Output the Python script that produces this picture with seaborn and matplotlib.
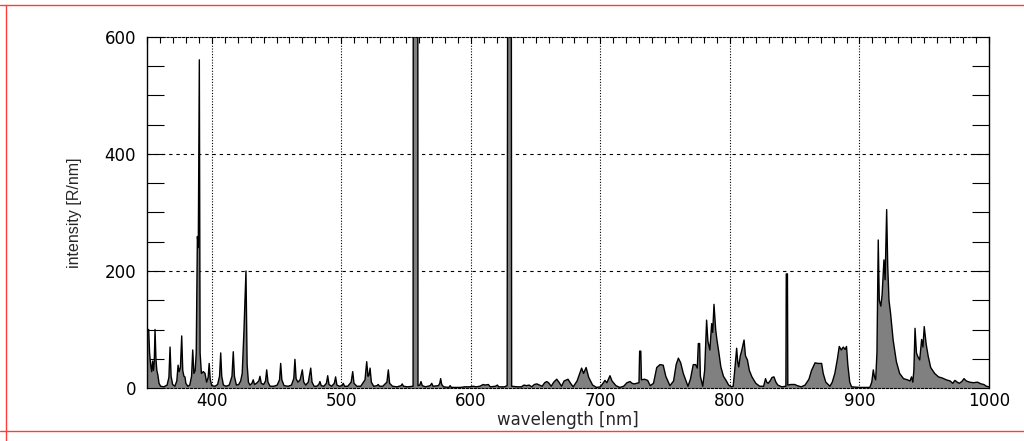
import matplotlib
matplotlib.use("Agg")
import matplotlib.pyplot as plt
from matplotlib.lines import Line2D
from matplotlib.ticker import MultipleLocator, FuncFormatter
import seaborn as sns
import pandas as pd

# spectrum (nm, R/nm); off-scale lines at 557.7 and 630 nm
wavelength_nm = [
    350.0, 351.3, 352.0, 352.8, 353.6, 354.3, 355.0, 355.6, 356.2, 356.9,
    357.6, 358.4, 359.3, 360.5, 363.0, 365.5, 366.9, 367.8, 368.6, 369.8,
    371.5, 373.0, 374.0, 374.8, 375.8, 376.8, 377.6, 378.5, 379.3, 380.0,
    381.5, 383.0, 384.4, 385.3, 386.2, 387.2, 388.0, 388.9, 389.6, 390.4,
    391.0, 392.0, 393.5, 394.8, 396.0, 397.2, 398.0, 398.8, 400.0, 402.5,
    404.5, 406.0, 406.9, 407.7, 409.0, 411.0, 413.5, 415.6, 416.6, 417.5,
    419.0, 420.8, 422.3, 423.5, 424.8, 425.6, 426.4, 427.3, 428.3, 429.5,
    431.0, 432.0, 433.0, 434.5, 436.3, 437.2, 438.2, 440.0, 441.5, 442.4,
    443.4, 445.0, 448.0, 450.5, 452.3, 453.2, 454.1, 455.8, 459.0, 461.5,
    463.3, 464.2, 465.1, 466.5, 468.2, 469.9, 471.0, 472.5, 474.5, 476.4,
    477.4, 479.0, 481.0, 482.6, 483.5, 484.5, 486.5, 488.5, 489.5, 490.5,
    492.5, 494.6, 495.6, 496.6, 498.5, 500.5, 501.5, 502.5, 505.0, 507.6,
    508.8, 509.8, 512.0, 515.0, 518.3, 519.6, 520.6, 521.4, 522.2, 523.2,
    525.0, 527.5, 528.5, 529.5, 532.0, 535.2, 536.3, 537.3, 539.5, 543.0,
    546.2, 547.0, 548.0, 551.0, 555.4, 555.8, 558.8, 559.2, 560.6, 561.5,
    562.5, 565.0, 568.6, 569.8, 570.8, 575.0, 576.0, 576.7, 577.5, 579.0,
    583.0, 584.0, 585.0, 592.0, 595.0, 599.0, 602.0, 604.0, 607.0, 609.5,
    611.0, 613.5, 615.0, 619.0, 620.5, 621.5, 626.0, 628.0, 629.2, 630.8,
    631.5, 636.0, 639.0, 641.0, 643.0, 645.0, 647.0, 649.0, 651.0, 653.0,
    655.0, 657.0, 658.5, 660.0, 662.0, 664.0, 666.3, 668.0, 670.0, 672.0,
    675.0, 677.0, 679.0, 682.0, 685.5, 687.0, 689.0, 691.0, 694.0, 697.0,
    700.0, 702.0, 703.5, 705.0, 707.4, 709.0, 712.0, 715.0, 718.0, 720.5,
    722.9, 724.5, 726.0, 729.8, 730.3, 731.2, 731.7, 734.0, 736.5, 738.5,
    741.0, 743.5, 746.0, 748.5, 750.5, 753.7, 756.5, 758.5, 760.2, 762.0,
    764.0, 767.6, 769.5, 771.7, 773.5, 774.8, 775.6, 776.6, 777.2, 779.0,
    780.5, 782.0, 783.0, 784.5, 785.9, 786.7, 787.7, 789.0, 790.0, 791.5,
    793.0, 795.0, 797.0, 799.0, 801.0, 802.5, 803.5, 805.2, 806.0, 806.8,
    808.0, 809.0, 810.9, 812.0, 813.5, 815.0, 817.0, 820.0, 823.0, 826.0,
    827.5, 828.4, 829.5, 831.0, 832.5, 834.0, 835.5, 837.0, 840.0, 843.2,
    843.5, 844.4, 844.7, 847.0, 850.0, 852.0, 855.0, 858.0, 861.0, 863.0,
    865.7, 868.0, 870.8, 872.0, 874.0, 877.2, 879.0, 881.0, 883.0, 884.4,
    886.0, 887.5, 889.0, 890.0, 891.0, 892.5, 893.9, 900.0, 908.0, 909.5,
    910.7, 911.5, 912.5, 913.5, 914.5, 915.3, 916.5, 917.5, 918.9, 919.8,
    921.0, 921.8, 922.8, 924.0, 926.0, 928.5, 931.0, 934.0, 937.0, 939.0,
    940.2, 941.2, 942.0, 942.9, 944.0, 945.0, 946.5, 948.0, 949.0, 950.0,
    951.5, 953.0, 955.0, 958.0, 961.0, 964.0, 967.0, 970.0, 972.0, 973.7,
    975.5, 977.0, 979.0, 980.7, 982.5, 985.0, 988.0, 991.0, 994.0, 996.0,
    998.0, 1000.0,
]
intensity = [
    100, 100, 60, 40, 28, 46, 30, 45, 100, 50,
    30, 22, 8, 3, 2, 5, 18, 70, 20, 6,
    3, 12, 39, 28, 35, 89, 30, 20, 19, 8,
    3, 5, 20, 65, 25, 30, 60, 259, 240, 561,
    60, 25, 28, 25, 10, 18, 42, 15, 4, 3,
    6, 20, 60, 20, 5, 3, 5, 20, 62, 20,
    5, 6, 12, 25, 95, 150, 200, 40, 10, 5,
    8, 14, 6, 8, 12, 20, 8, 6, 12, 31,
    10, 3, 3, 5, 14, 42, 14, 4, 3, 5,
    16, 49, 16, 10, 14, 31, 10, 5, 10, 34,
    10, 3, 3, 6, 11, 4, 3, 8, 21, 6,
    3, 8, 19, 5, 3, 4, 8, 3, 3, 10,
    28, 8, 3, 3, 14, 45, 20, 22, 34, 10,
    3, 4, 6, 3, 3, 10, 31, 8, 3, 2,
    4, 7, 3, 2, 3, 2000, 2000, 4, 5, 11,
    4, 2, 4, 8, 3, 4, 8, 16, 6, 2,
    1, 4, 1, 1, 2, 2, 3, 2, 3, 6,
    5, 6, 2, 3, 5, 2, 2, 4, 2000, 2000,
    3, 2, 2, 5, 4, 5, 2, 6, 7, 5,
    3, 9, 11, 9, 3, 10, 15, 10, 3, 12,
    15, 8, 2, 12, 34, 25, 35, 18, 5, 1,
    2, 8, 13, 9, 21, 12, 4, 1, 3, 9,
    11, 8, 7, 9, 63, 63, 14, 15, 13, 4,
    8, 35, 40, 39, 20, 4, 12, 40, 51, 43,
    25, 3, 15, 40, 40, 34, 76, 76, 20, 3,
    30, 116, 80, 65, 110, 95, 143, 100, 82, 60,
    36, 20, 13, 5, 2, 3, 25, 68, 45, 36,
    55, 63, 82, 55, 48, 30, 19, 8, 3, 3,
    16, 10, 8, 12, 18, 19, 10, 5, 2, 3,
    195, 195, 5, 6, 6, 4, 2, 5, 15, 30,
    43, 42, 42, 25, 10, 3, 10, 25, 50, 71,
    65, 70, 66, 71, 40, 10, 2, 1, 1, 10,
    31, 20, 14, 60, 253, 150, 140, 160, 219, 185,
    305, 210, 150, 128, 82, 45, 25, 16, 14, 12,
    19, 10, 30, 102, 60, 54, 48, 83, 70, 105,
    75, 55, 35, 25, 19, 17, 14, 12, 8, 13,
    10, 8, 11, 16, 12, 10, 9, 10, 7, 6,
    3, 2,
]
x_ticks_major = 100
x_ticks_minor = 10
y_ticks_major = 200
y_ticks_minor = 50

sns.set_style("white")
plt.rcParams["font.family"] = ["DejaVu Sans"]

df = pd.DataFrame({"wavelength": wavelength_nm, "intensity": intensity})

fig = plt.figure(figsize=(10.24, 4.41), dpi=100)
ax = fig.add_axes([147 / 1024, 1 - 388 / 441, 842 / 1024, 351 / 441])

ax.fill_between(df["wavelength"], df["intensity"], 0, color="#808080", lw=0, zorder=2)
sns.lineplot(data=df, x="wavelength", y="intensity", ax=ax, color="black", lw=1.0,
             estimator=None, sort=False, zorder=3)

ax.set_xlim(350, 1000)
ax.set_ylim(0, 600)

ax.xaxis.set_major_locator(MultipleLocator(x_ticks_major))
ax.xaxis.set_minor_locator(MultipleLocator(x_ticks_minor))
ax.yaxis.set_major_locator(MultipleLocator(y_ticks_major))
ax.yaxis.set_minor_locator(MultipleLocator(y_ticks_minor))
ax.yaxis.set_major_formatter(FuncFormatter(lambda v, p: f"{v:.0f}"))

ax.tick_params(axis="x", which="both", bottom=False, top=True, direction="in",
               length=4, width=0.8, labelsize=12, pad=3, colors="black")
ax.tick_params(axis="y", which="both", left=True, right=True, direction="in",
               length=12, width=0.8, labelsize=12, pad=8, colors="black")

# grid: dotted verticals, dashed horizontals
ax.grid(False)
for xv in ax.get_xticks():
    if 350 < xv < 1000:
        ax.axvline(xv, color="black", lw=0.8, ls=(0, (1, 1.5)), zorder=1)
for yv in ax.get_yticks():
    if 0 < yv < 600:
        ax.axhline(yv, color="black", lw=0.8, ls=(0, (3, 3.5)), zorder=1)

for side in ["left", "right"]:
    ax.spines[side].set_color("black")
    ax.spines[side].set_linewidth(1.0)
for side in ["top", "bottom"]:
    ax.spines[side].set_color("black")
    ax.spines[side].set_linewidth(0.8)
    ax.spines[side].set_linestyle((0, (2, 1.5)))

ax.set_xlabel("wavelength [nm]", fontsize=12)
ax.xaxis.set_label_coords(0.5, -32 / 351)
ax.xaxis.label.set_va("center")
ax.set_ylabel("intensity [R/nm]", fontsize=11.5, family=["Liberation Sans", "DejaVu Sans"])
ax.yaxis.set_label_coords(-72 / 842, 0.5)
ax.yaxis.label.set_va("center")
ax.yaxis.label.set_ha("center")

# red frame around the figure
red = "#ff3b3b"
fig.add_artist(Line2D([0, 1], [1 - 4.5 / 441] * 2, transform=fig.transFigure, color=red, lw=1))
fig.add_artist(Line2D([0, 1], [1 - 430.5 / 441] * 2, transform=fig.transFigure, color=red, lw=1))
fig.add_artist(Line2D([5.5 / 1024] * 2, [0, 1 - 4.5 / 441], transform=fig.transFigure, color=red, lw=1))

fig.savefig("out.png", dpi=100)
plt.close(fig)
